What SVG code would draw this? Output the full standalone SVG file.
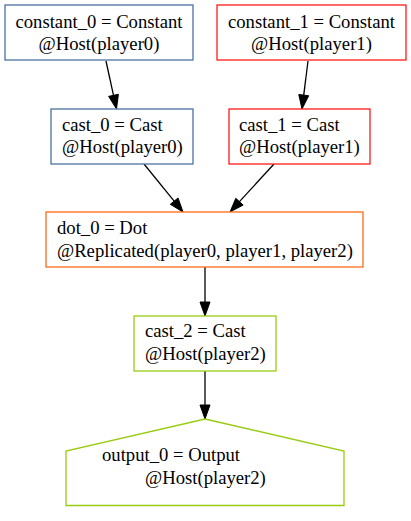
<svg xmlns="http://www.w3.org/2000/svg" width="411" height="521" viewBox="0 0 411 521">
<style>
.n{fill:#fff;stroke-width:1.3}
.b{stroke:#4a72a4}
.r{stroke:#ff1a1a}
.o{stroke:#ff6a14}
.g{stroke:#99cc11}
.c{text-anchor:middle}
.e{stroke:#000;stroke-width:1.3;fill:none}
.h{fill:#000;stroke:#000;stroke-width:1}
</style>
<rect width="411" height="521" fill="#fff"/>
<g id="edges">
<line class="e" x1="106" y1="61" x2="113.51" y2="95.32"/>
<polygon class="h" points="116.5,109 108.63,96.39 118.40,94.25"/>
<line class="e" x1="308" y1="61" x2="303.74" y2="95.11"/>
<polygon class="h" points="302,109 298.78,94.49 308.70,95.73"/>
<line class="e" x1="144" y1="164" x2="174.17" y2="201.13"/>
<polygon class="h" points="183,212 170.29,204.28 178.05,197.98"/>
<line class="e" x1="274" y1="164" x2="239.46" y2="201.68"/>
<polygon class="h" points="230,212 235.77,198.30 243.15,205.06"/>
<line class="e" x1="205" y1="267" x2="205" y2="302"/>
<polygon class="h" points="205,316 200,302 210,302"/>
<line class="e" x1="205" y1="371" x2="205" y2="405"/>
<polygon class="h" points="205,419 200,405 210,405"/>
</g>
<g font-family="Liberation Serif, serif" font-size="18.67" fill="#000">
<g id="constant_0">
<rect class="n b" x="5" y="5" width="188" height="55"/>
<text class="c" x="99" y="28">constant_0 = Constant</text>
<text class="c" x="99" y="50">@Host(player0)</text>
</g>
<g id="constant_1">
<rect class="n r" x="217" y="5" width="189" height="55"/>
<text class="c" x="311.5" y="28">constant_1 = Constant</text>
<text class="c" x="311.5" y="50">@Host(player1)</text>
</g>
<g id="cast_0">
<rect class="n b" x="51" y="109" width="142" height="55"/>
<text x="62" y="131">cast_0 = Cast</text>
<text x="62" y="153">@Host(player0)</text>
</g>
<g id="cast_1">
<rect class="n r" x="229" y="109" width="141" height="55"/>
<text x="239" y="131">cast_1 = Cast</text>
<text x="239" y="153">@Host(player1)</text>
</g>
<g id="dot_0">
<rect class="n o" x="46" y="212" width="317" height="55"/>
<text x="57" y="234">dot_0 = Dot</text>
<text x="57" y="257">@Replicated(player0, player1, player2)</text>
</g>
<g id="cast_2">
<rect class="n g" x="134" y="316" width="142" height="55"/>
<text x="145" y="337">cast_2 = Cast</text>
<text x="145" y="360">@Host(player2)</text>
</g>
<g id="output_0">
<polygon class="n g" points="205,419 344,451 344,505.5 66,505.5 66,451"/>
<text x="102" y="461">output_0 = Output</text>
<text x="145" y="484">@Host(player2)</text>
</g>
</g>
</svg>
